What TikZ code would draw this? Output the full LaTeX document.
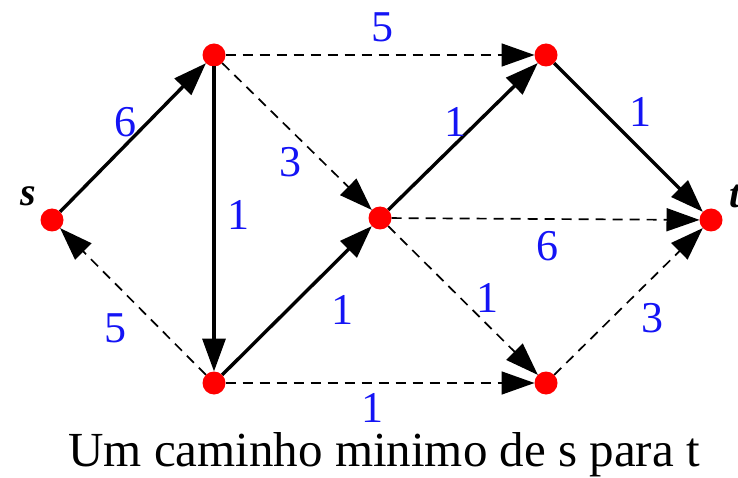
\documentclass[tikz,border=0pt]{standalone}
\usepackage{fontspec}
\setmainfont{Liberation Serif}
\usetikzlibrary{arrows.meta}
\definecolor{lblue}{RGB}{20,20,245}
\tikzset{
  vtx/.style={circle,fill=red,minimum size=23pt,inner sep=0pt,outer sep=0pt},
  tree/.style={line width=3.4pt,-{Triangle[length=33pt,width=23pt]}},
  other/.style={line width=1.7pt,dash pattern=on 10pt off 7pt,-{Triangle[length=33pt,width=23pt]}},
  wlbl/.style={text=lblue,font=\fontsize{44}{44}\selectfont,inner sep=0pt},
}
\begin{document}
\begin{tikzpicture}[x=1pt,y=-1pt]
\useasboundingbox (0,0) rectangle (738,478);
\node[vtx] (s) at (52,220) {};
\node[vtx] (a) at (214,55) {};
\node[vtx] (b) at (214,383) {};
\node[vtx] (c) at (380,218) {};
\node[vtx] (d) at (546,55) {};
\node[vtx] (e) at (546,383) {};
\node[vtx] (t) at (711,220) {};
\node[font=\fontsize{40}{40}\selectfont\bfseries\itshape,inner sep=0pt] (sl) at (28,196) {s};
\node[font=\fontsize{40}{40}\selectfont\bfseries\itshape,inner sep=0pt,anchor=west] (tl) at (729,196) {t};
\draw[tree] (s) -- (a);
\draw[tree] (a) -- (b);
\draw[other] (a) -- (c);
\draw[other] (a) -- (d);
\draw[other] (b) -- (s);
\draw[tree] (b) -- (c);
\draw[other] (b) -- (e);
\draw[tree] (c) -- (d);
\draw[other] (c) -- (t);
\draw[other] (c) -- (e);
\draw[tree] (d) -- (t);
\draw[other] (e) -- (t);
\node[wlbl] (w1) at (125,122) {6};
\node[wlbl] (w2) at (238,215) {1};
\node[wlbl] (w3) at (290,162) {3};
\node[wlbl] (w4) at (382,27) {5};
\node[wlbl] (w5) at (115,328) {5};
\node[wlbl] (w6) at (342,310) {1};
\node[wlbl] (w7) at (372,408) {1};
\node[wlbl] (w8) at (455,122) {1};
\node[wlbl] (w9) at (547,246) {6};
\node[wlbl] (w10) at (487,298) {1};
\node[wlbl] (w11) at (640,112) {1};
\node[wlbl] (w12) at (652,318) {3};
\node[font=\fontsize{49}{49}\selectfont,inner sep=0pt,anchor=base] (cap) at (384,466) {Um caminho minimo de s para t};
\end{tikzpicture}
\end{document}
